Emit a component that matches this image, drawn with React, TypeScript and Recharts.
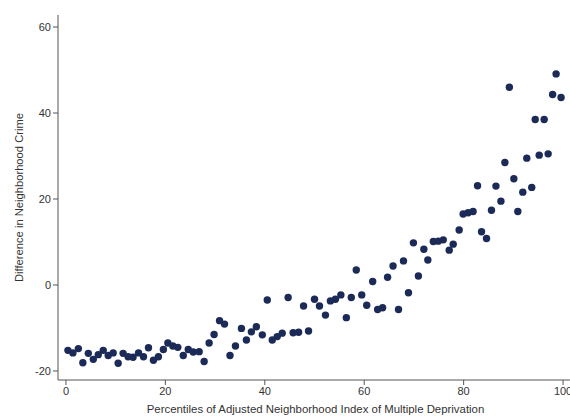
import React from 'react';
import { ScatterChart, Scatter, XAxis, YAxis } from 'recharts';

// percentile bins (x) and difference in neighborhood crime (y)
const percentiles = [
  0.4, 1.4, 2.5, 3.4, 4.5, 5.5, 6.5, 7.5, 8.5, 9.5,
  10.5, 11.5, 12.5, 13.5, 14.6, 15.6, 16.6, 17.6, 18.6, 19.6,
  20.5, 21.5, 22.5, 23.6, 24.6, 25.6, 26.8, 27.8, 28.8, 29.8,
  30.9, 31.9, 33.0, 34.1, 35.3, 36.3, 37.3, 38.3, 39.5, 40.5,
  41.5, 42.5, 43.5, 44.7, 45.7, 46.8, 47.8, 48.8, 50.0, 51.0,
  52.2, 53.2, 54.2, 55.3, 56.4, 57.4, 58.4, 59.5, 60.5, 61.7,
  62.7, 63.7, 64.7, 65.8, 66.9, 67.9, 68.9, 69.9, 70.9, 72.0,
  72.8, 73.9, 74.9, 75.9, 77.1, 77.9, 79.1, 79.9, 80.9, 81.9,
  82.8, 83.6, 84.6, 85.6, 86.5, 87.5, 88.3, 89.2, 90.1, 90.9,
  91.9, 92.7, 93.7, 94.4, 95.2, 96.2, 97.0, 97.9, 98.6, 99.6,
];

const crimeDiff = [
  -15.2, -15.8, -14.8, -18.1, -15.9, -17.3, -16.2, -15.2, -16.4, -15.8,
  -18.2, -15.9, -16.7, -16.8, -15.8, -16.7, -14.6, -17.5, -16.7, -15.0,
  -13.5, -14.2, -14.5, -16.4, -15.0, -15.6, -15.5, -17.8, -13.5, -11.5,
  -8.3, -9.1, -16.4, -14.2, -10.1, -12.8, -10.9, -9.7, -11.6, -3.5,
  -12.8, -12.0, -11.2, -2.9, -11.1, -11.0, -4.9, -10.7, -3.3, -4.9,
  -7.0, -3.7, -3.3, -2.3, -7.6, -2.9, 3.5, -2.3, -4.7, 0.8,
  -5.7, -5.3, 1.8, 4.4, -5.7, 5.6, -1.8, 9.8, 2.1, 8.3,
  5.8, 10.1, 10.2, 10.5, 8.1, 9.5, 12.8, 16.5, 16.8, 17.1,
  23.1, 12.4, 10.8, 17.4, 23.0, 19.5, 28.5, 46.0, 24.7, 17.1,
  21.6, 29.5, 22.7, 38.5, 30.2, 38.5, 30.5, 44.3, 49.1, 43.6,
];

const xTicks = [0, 20, 40, 60, 80, 100];
const yTicks = [-20, 0, 20, 40, 60];

const data = percentiles.map((x, i) => ({ x, y: crimeDiff[i] }));

const FONT = '"Liberation Sans", Arial, sans-serif';
const AXIS = '#555';
const TEXT = '#333';

const Dot = (props: any) => {
  const { cx, cy } = props;
  if (cx == null || cy == null) return null;
  return <circle cx={cx} cy={cy} r={3.7} fill="#1c2a58" />;
};

const App = () => {
  return (
    <div
      style={{
        position: 'absolute',
        left: 0,
        top: 0,
        width: 570,
        height: 416,
        overflow: 'hidden',
        background: '#fff',
      }}
    >
      <ScatterChart
        width={600}
        height={416}
        margin={{ top: 15, right: 27, bottom: 0, left: 0 }}
      >
        <XAxis
          type="number"
          dataKey="x"
          domain={[-1.6, 102]}
          ticks={xTicks}
          interval={0}
          height={36}
          tickSize={5}
          stroke={AXIS}
          tick={{ fill: TEXT, fontSize: 11, fontFamily: FONT }}
          label={{
            value: 'Percentiles of Adjusted Neighborhood Index of Multiple Deprivation',
            position: 'insideBottom',
            offset: 3,
            style: { fill: TEXT, fontSize: 11.4, fontFamily: FONT },
          }}
        />
        <YAxis
          type="number"
          dataKey="y"
          domain={[-22.1, 62.8]}
          ticks={yTicks}
          interval={0}
          width={58}
          tickSize={5}
          stroke={AXIS}
          tick={{ fill: TEXT, fontSize: 11, fontFamily: FONT }}
          label={{
            value: 'Difference in Neighborhood Crime',
            angle: -90,
            position: 'insideLeft',
            offset: 19,
            style: { fill: TEXT, fontSize: 11.2, fontFamily: FONT, textAnchor: 'middle' },
          }}
        />
        <Scatter data={data} shape={<Dot />} isAnimationActive={false} />
      </ScatterChart>
    </div>
  );
};

export default App;
